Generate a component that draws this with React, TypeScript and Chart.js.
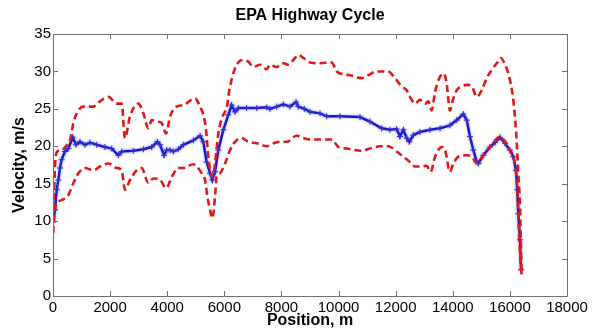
import { useEffect, useRef } from 'react';
import { Chart, registerables } from 'chart.js';

Chart.register(...registerables);

// Measured velocity profile along the route (position in m, velocity in m/s)
const positionMeasured = [
  0, 70, 130, 186, 245, 300, 420, 537, 690, 805, 945, 1120, 1296, 1530, 1820, 2055, 2290, 2405,
  2810, 3165, 3455, 3655, 3750, 3890, 3980, 4100, 4215, 4390, 4565, 4915, 5150, 5265, 5380, 5500,
  5580, 5675, 5790, 5965, 6140, 6255, 6375, 6490, 6780, 7135, 7485, 7600, 7835, 8065, 8300, 8510,
  8590, 8800, 9000, 9350, 9585, 10050, 10750, 11100, 11510, 11800, 12035, 12150, 12270, 12385,
  12480, 12620, 12850, 13200, 13555, 13900, 14140, 14370, 14490, 14600, 14720, 14840, 14895, 15070,
  15300, 15480, 15650, 15830, 16000, 16120, 16215, 16260, 16295, 16355, 16390,
];
const velocityMeasured = [
  9.9, 11.5, 14.2, 15.5, 17.1, 18.2, 19.3, 19.7, 21.2, 20.2, 20.6, 20.2, 20.5, 20.2, 19.9, 19.7, 18.8, 19.3,
  19.4, 19.6, 19.9, 20.6, 20.2, 18.8, 19.5, 19.5, 19.3, 19.6, 20.2, 20.8, 21.4, 20.6, 17.9, 16.4,
  15.5, 16.6, 19.5, 22.2, 24.2, 25.5, 24.6, 25.1, 25.1, 25.1, 25.2, 25.0, 25.3, 25.6, 25.3, 25.9,
  25.3, 25.0, 24.6, 24.4, 24.0, 24.0, 23.9, 23.3, 22.4, 22.2, 22.3, 21.3, 22.2, 21.1,
  20.6, 21.5, 21.9, 22.2, 22.4, 22.8, 23.5, 24.3, 23.5, 21.3, 19.5, 17.9, 17.7, 18.8,
  19.9, 20.5, 21.2, 20.4, 19.5, 18.6, 16.8, 14.2, 11.0, 7.5, 3.5,
];

// Upper velocity bound
const positionUpper = [
  0, 70, 150, 300, 450, 595, 715, 830, 1060, 1410, 1645, 1940, 2230, 2405, 2520, 2695, 2990, 3165,
  3340, 3455, 3630, 3805, 3960, 4100, 4330, 4565, 4975, 5150, 5265, 5360, 5440, 5520, 5590, 5675,
  5790, 5910, 6085, 6200, 6375, 6610, 6840, 7015, 7250, 7485, 7600, 7835, 8065, 8240, 8475, 8590,
  8765, 9000, 9350, 9760, 9935, 10170, 10400, 10810, 11040, 11335, 11740, 11975, 12210, 12385,
  12500, 12680, 12850, 13030, 13145, 13260, 13380, 13555, 13690, 13785, 13900, 14020, 14140, 14310,
  14490, 14665, 14840, 15015, 15190, 15365, 15540, 15680, 15830, 16000, 16145, 16235, 16295, 16355,
  16410,
];
const velocityUpper = [
  8.4, 17.3, 19.3, 19.5, 20.0, 20.8, 23.1, 24.4, 25.3, 25.3, 26.0, 26.6, 25.7, 25.7, 21.1, 24.0, 25.7, 24.4,
  22.4, 23.5, 23.3, 23.1, 21.7, 24.0, 25.3, 25.5, 26.4, 25.3, 24.2, 22.2, 18.6, 16.4, 15.9, 17.7,
  21.7, 23.7, 25.3, 28.0, 30.4, 31.5, 31.3, 30.6, 30.9, 30.3, 30.9, 30.6, 31.1, 30.9, 31.8, 32.2,
  31.8, 31.2, 31.1, 31.2, 30.0, 29.6, 29.5, 29.1, 29.5, 30.0, 30.0, 29.1, 28.0, 27.5,
  26.6, 25.7, 26.2, 25.7, 26.0, 24.8, 27.3, 29.3, 29.7, 28.4, 24.8, 26.4, 27.5, 28.0,
  28.2, 28.0, 26.6, 27.5, 29.1, 30.2, 31.1, 31.8, 30.9, 28.9, 25.3, 20.8, 16.4, 11.9,
  3.0,
];

// Lower velocity bound
const positionLower = [
  0, 70, 130, 300, 537, 715, 890, 1120, 1410, 1645, 1940, 2230, 2405, 2520, 2695, 2930, 3105, 3340,
  3515, 3750, 3960, 4160, 4390, 4565, 4915, 5205, 5325, 5405, 5500, 5580, 5675, 5730, 5850, 6025,
  6200, 6375, 6610, 6840, 7135, 7485, 7720, 7950, 8185, 8535, 8765, 9000, 9760, 9995, 10285, 10810,
  11100, 11450, 11745, 12035, 12270, 12500, 12680, 12910, 13085, 13225, 13380, 13615, 13730, 13900,
  14020, 14195, 14490, 14665, 14840, 15070, 15300, 15650, 16000, 16180, 16260, 16330, 16410,
];
const velocityLower = [
  8.4, 11.5, 12.4, 12.8, 13.5, 15.1, 16.4, 17.1, 16.8, 17.3, 17.7, 17.1, 16.8, 14.2, 15.5, 16.8, 17.1, 15.1,
  15.7, 15.5, 14.4, 15.9, 17.1, 17.1, 17.6, 16.4, 15.5, 13.3, 11.5, 10.4, 13.3, 15.9, 16.4, 17.7,
  19.5, 20.6, 21.1, 20.6, 20.4, 20.0, 20.4, 20.6, 20.6, 21.4, 21.1, 20.9, 20.9, 19.9, 19.7, 19.4,
  19.7, 20.0, 20.0, 19.3, 18.6, 17.9, 17.3, 17.3, 17.4, 16.6, 18.6, 19.9, 19.5, 16.6,
  17.7, 18.6, 18.8, 18.6, 17.8, 18.8, 19.9, 21.2, 19.5, 17.5, 14.2, 7.5, 2.8,
];

const xTicks = [0, 2000, 4000, 6000, 8000, 10000, 12000, 14000, 16000, 18000];
const yTicks = [0, 5, 10, 15, 20, 25, 30, 35];
const chartTitle = 'EPA Highway Cycle';

const toPoints = (xs: number[], ys: number[]) => xs.map((x, i) => ({ x, y: ys[i] }));

const FONT = "'Liberation Sans', Arial, Helvetica, sans-serif";
const AXIS_GRAY = '#6f6f6f';

// Box around the plot area with inward tick marks on all four sides,
// plus the title centred over the plot area
const boxPlugin = {
  id: 'boxTicks',
  afterDraw(chart: any) {
    const { ctx, chartArea } = chart;
    const { left, right, top, bottom } = chartArea;
    const xs = chart.scales.x;
    const ys = chart.scales.y;
    const len = 5;
    ctx.save();
    ctx.strokeStyle = AXIS_GRAY;
    ctx.lineWidth = 1;
    ctx.beginPath();
    ctx.rect(Math.round(left) + 0.5, Math.round(top) + 0.5, Math.round(right - left), Math.round(bottom - top));
    xTicks.forEach((v) => {
      const px = Math.round(xs.getPixelForValue(v)) + 0.5;
      ctx.moveTo(px, bottom);
      ctx.lineTo(px, bottom - len);
      ctx.moveTo(px, top);
      ctx.lineTo(px, top + len);
    });
    yTicks.forEach((v) => {
      const py = Math.round(ys.getPixelForValue(v)) + 0.5;
      ctx.moveTo(left, py);
      ctx.lineTo(left + len, py);
      ctx.moveTo(right, py);
      ctx.lineTo(right - len, py);
    });
    ctx.stroke();

    ctx.fillStyle = '#000';
    ctx.font = `bold 16px ${FONT}`;
    ctx.textAlign = 'center';
    ctx.textBaseline = 'middle';
    ctx.fillText(chartTitle, (left + right) / 2, 16);
    ctx.restore();
  },
};

// Soft halo under the marked velocity trace
const haloPlugin = {
  id: 'traceHalo',
  beforeDatasetDraw(chart: any, args: any) {
    if (args.index !== 0) return;
    const ctx = chart.ctx;
    ctx.save();
    ctx.shadowColor = 'rgba(120,120,225,0.6)';
    ctx.shadowBlur = 3;
  },
  afterDatasetDraw(chart: any, args: any) {
    if (args.index !== 0) return;
    chart.ctx.restore();
  },
};

export default function App() {
  const canvasRef = useRef<HTMLCanvasElement | null>(null);

  useEffect(() => {
    if (!canvasRef.current) return;
    const chart = new Chart(canvasRef.current, {
      type: 'line',
      data: {
        datasets: [
          {
            label: 'Velocity',
            data: toPoints(positionMeasured, velocityMeasured),
            borderColor: '#1616c8',
            borderWidth: 2.5,
            pointStyle: 'cross',
            pointRadius: 3,
            pointBorderColor: '#2a2ad2',
            pointBorderWidth: 1,
            tension: 0,
            order: 2,
          },
          {
            label: 'Upper bound',
            data: toPoints(positionUpper, velocityUpper),
            borderColor: '#e01818',
            borderWidth: 2.6,
            borderDash: [7, 4],
            pointRadius: 0,
            cubicInterpolationMode: 'monotone',
            order: 1,
          },
          {
            label: 'Lower bound',
            data: toPoints(positionLower, velocityLower),
            borderColor: '#e01818',
            borderWidth: 2.6,
            borderDash: [7, 4],
            pointRadius: 0,
            cubicInterpolationMode: 'monotone',
            order: 1,
          },
        ],
      },
      options: {
        responsive: false,
        animation: false,
        events: [],
        layout: { padding: { left: 0, right: 32, top: 34, bottom: 0 } },
        plugins: {
          legend: { display: false },
          tooltip: { enabled: false },
          title: { display: false },
        },
        scales: {
          x: {
            type: 'linear',
            min: 0,
            max: 18000,
            afterBuildTicks: (scale: any) => {
              scale.ticks = xTicks.map((value) => ({ value }));
            },
            afterFit: (scale: any) => {
              scale.height = 34;
            },
            ticks: {
              color: '#000',
              font: { family: FONT, size: 15 },
              padding: 3,
              maxRotation: 0,
              autoSkip: false,
              callback: (v: any) => String(v),
            },
            grid: { display: false, drawTicks: false },
            border: { display: false },
            title: {
              display: true,
              text: 'Position, m',
              color: '#000',
              font: { family: FONT, size: 16, weight: 'bold' },
              padding: { top: 0, bottom: 0 },
            },
          },
          y: {
            type: 'linear',
            min: 0,
            max: 35,
            afterBuildTicks: (scale: any) => {
              scale.ticks = yTicks.map((value) => ({ value }));
            },
            afterFit: (scale: any) => {
              scale.width = 53;
            },
            ticks: {
              color: '#000',
              font: { family: FONT, size: 15 },
              padding: 2,
              autoSkip: false,
              callback: (v: any) => String(v),
            },
            grid: { display: false, drawTicks: false },
            border: { display: false },
            title: {
              display: true,
              text: 'Velocity, m/s',
              color: '#000',
              font: { family: FONT, size: 16, weight: 'bold' },
              padding: { top: 10, bottom: 0 },
            },
          },
        },
      },
      plugins: [boxPlugin, haloPlugin],
    } as any);
    return () => chart.destroy();
  }, []);

  return (
    <div style={{ position: 'fixed', left: 0, top: 0, width: 599, height: 330, background: '#fff' }}>
      <canvas ref={canvasRef} width={599} height={330} />
    </div>
  );
}
